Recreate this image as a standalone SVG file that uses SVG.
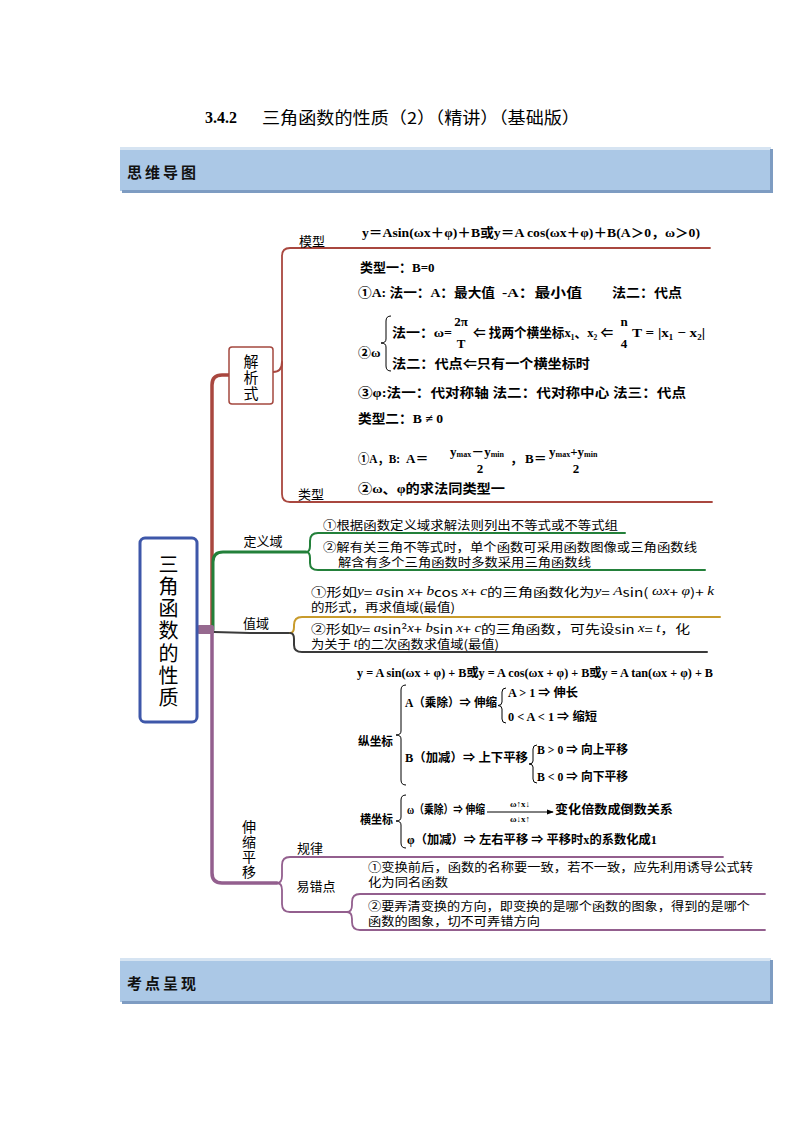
<svg xmlns="http://www.w3.org/2000/svg" width="794" height="1123" viewBox="0 0 794 1123">
<defs>
<marker id="ah" viewBox="0 0 8 8" refX="7" refY="4" markerWidth="7" markerHeight="7" orient="auto" markerUnits="userSpaceOnUse"><path d="M0,1 L8,4 L0,7 Z" fill="#000"/></marker>
</defs>
<style>
text{dominant-baseline:central}
.cn{font-family:"Noto Sans CJK SC","Noto Sans",sans-serif;fill:#000}
.vt{writing-mode:vertical-rl}
.lbl{font-size:13px}
.it{font-size:12px}
.m{font-family:"Liberation Serif","Noto Sans CJK SC",serif;font-weight:bold;font-size:13px;fill:#000}
.r{font-size:12px}
.v{font-family:"Liberation Serif",serif;font-style:italic}
.sub{font-size:8px}
.bar{fill:#ABC8E6}
.barhi{fill:#D6E4F2}
.barsh{fill:#7E9CC2}
.bt{font-family:"Noto Sans CJK SC",sans-serif;font-weight:bold;font-size:15px;letter-spacing:3px;fill:#111}
.br{fill:none;stroke:#000;stroke-width:1}
.c{fill:none;stroke-linecap:round;stroke-linejoin:round}
</style>
<rect width="794" height="1123" fill="#fff"/>

<g id="title">
<text x="205" y="117" style="font-family:'Liberation Serif',serif;font-weight:bold;font-size:16px">3.4.2</text>
<text x="262" y="117" class="cn" style="font-size:16.5px" textLength="318" lengthAdjust="spacingAndGlyphs">三角函数的性质（2）（精讲）（基础版）</text>
</g>

<g id="header-mindmap">
<rect class="bar" x="120" y="147" width="651" height="44"/>
<rect class="barhi" x="120" y="147" width="651" height="3"/>
<rect class="barsh" x="122" y="190" width="651" height="3"/>
<rect class="barsh" x="770" y="149" width="3" height="44"/>
<text class="bt" x="127" y="171">思维导图</text>
</g>

<g id="header-kaodian">
<rect class="bar" x="120" y="958" width="651" height="44"/>
<rect class="barhi" x="120" y="958" width="651" height="3"/>
<rect class="barsh" x="122" y="1001" width="651" height="3"/>
<rect class="barsh" x="770" y="960" width="3" height="44"/>
<text class="bt" x="127" y="982">考点呈现</text>
</g>

<g id="connectors">
<path class="c" d="M212,632 V385 Q212,375 222,375 H229" stroke="#A9473F" stroke-width="3.5"/>
<path class="c" d="M273,372 Q282,372 282,362" stroke="#A9473F" stroke-width="2"/>
<path class="c" d="M710,248 H290 Q282,248 282,256 V494 Q282,502 290,502 H712" stroke="#A9473F" stroke-width="1.8"/>
<path class="c" d="M213,630 V562 Q213,552 223,552 H306" stroke="#23803A" stroke-width="3"/>
<path class="c" d="M306,552 Q310,552 310,546 V541 Q310,533 318,533 H625" stroke="#23803A" stroke-width="2"/>
<path class="c" d="M306,552 Q310,552 310,558 V563 Q310,570 318,570 H705" stroke="#23803A" stroke-width="2"/>
<path class="c" d="M214,632 L250,633 H290" stroke="#3A3A3A" stroke-width="2.2"/>
<path class="c" d="M290,633 Q294,633 294,627 V625 Q294,617 302,617 H720" stroke="#C89B2C" stroke-width="2"/>
<path class="c" d="M290,633 Q294,633 294,639 V645 Q294,652 302,652 H707" stroke="#3A3A3A" stroke-width="2"/>
<path class="c" d="M212,632 V873 Q212,883 222,883 H277" stroke="#935F8E" stroke-width="3.5"/>
<path class="c" d="M277,883 Q282,883 282,876 V865 Q282,857 290,857 H723" stroke="#935F8E" stroke-width="1.8"/>
<path class="c" d="M277,883 Q282,883 282,890 V904 Q282,912 290,912 H347" stroke="#935F8E" stroke-width="1.8"/>
<path class="c" d="M347,912 Q352,912 352,905 V902 Q352,894 360,894 H765" stroke="#935F8E" stroke-width="1.8"/>
<path class="c" d="M347,912 Q352,912 352,919 V922 Q352,930 360,930 H765" stroke="#935F8E" stroke-width="1.8"/>
<rect x="197" y="625" width="17" height="9" rx="2" fill="#96698F"/>
</g>

<g id="root">
<rect x="140" y="538" width="57" height="184" rx="5" fill="#fff" stroke="#3E57A9" stroke-width="3"/>
<text class="cn vt" style="font-size:20px;letter-spacing:2.3px" x="168.5" y="554">三角函数的性质</text>
</g>

<g id="node-jiexishi">
<rect x="229" y="347" width="44" height="57" rx="3" fill="#fff" stroke="#A4483F" stroke-width="1.5"/>
<text class="cn vt" style="font-size:15px;letter-spacing:1px" x="251" y="353.5">解析式</text>
</g>

<g id="node-moxing">
<text class="cn lbl" x="312" y="240" text-anchor="middle">模型</text>
<text class="m" x="362" y="232" textLength="338" lengthAdjust="spacingAndGlyphs">y＝Asin(ωx＋φ)＋B或y＝A cos(ωx＋φ)＋B(A＞0，ω＞0)</text>
</g>

<g id="node-leixing">
<text class="cn lbl" x="311" y="493" text-anchor="middle">类型</text>
<text class="m" x="360" y="267">类型一：B=0</text>
<text class="m" x="358" y="292" textLength="137" lengthAdjust="spacingAndGlyphs">①A: 法一：A：最大值</text>
<text class="m" x="502" y="292" textLength="80" lengthAdjust="spacingAndGlyphs">-A：最小值</text>
<text class="m" x="612" y="292" textLength="70" lengthAdjust="spacingAndGlyphs">法二：代点</text>
<text class="m" x="358" y="352">②ω</text>
<path class="br" d="M391,316 Q386,316 386,321 V339 Q386,343 381,343 Q386,343 386,347 V366 Q386,371 391,371"/>
<text class="m" x="392" y="332" textLength="60" lengthAdjust="spacingAndGlyphs">法一：ω=</text>
<text class="m" x="461" y="321" text-anchor="middle">2π</text>
<text class="m" x="461" y="343" text-anchor="middle">T</text>
<text class="m" x="473" y="332" textLength="140" lengthAdjust="spacingAndGlyphs">⇐ 找两个横坐标x₁、x₂ ⇐</text>
<text class="m" x="624" y="321" text-anchor="middle">n</text>
<text class="m" x="624" y="343" text-anchor="middle">4</text>
<text class="m" x="632" y="332" textLength="73" lengthAdjust="spacingAndGlyphs">T = |x₁ − x₂|</text>
<text class="m" x="392" y="363" textLength="198" lengthAdjust="spacingAndGlyphs">法二：代点⇐只有一个横坐标时</text>
<text class="m" x="358" y="392" textLength="328" lengthAdjust="spacingAndGlyphs">③φ:法一：代对称轴 法二：代对称中心 法三：代点</text>
<text class="m" x="358" y="418" textLength="85" lengthAdjust="spacingAndGlyphs">类型二：B ≠ 0</text>
<text class="m" x="358" y="458" textLength="42" lengthAdjust="spacingAndGlyphs">①A，B:</text>
<text class="m" x="406" y="458">A＝</text>
<text class="m" x="450" y="451">y<tspan class="sub" dy="3">max</tspan><tspan dy="-3">－y</tspan><tspan class="sub" dy="3">min</tspan></text>
<text class="m" x="480" y="468" text-anchor="middle">2</text>
<text class="m" x="510" y="458">，</text>
<text class="m" x="525" y="458">B＝</text>
<text class="m" x="549" y="451">y<tspan class="sub" dy="3">max</tspan><tspan dy="-3">+y</tspan><tspan class="sub" dy="3">min</tspan></text>
<text class="m" x="576" y="468" text-anchor="middle">2</text>
<text class="m" x="358" y="488" textLength="147" lengthAdjust="spacingAndGlyphs">②ω、φ的求法同类型一</text>
</g>

<g id="node-dingyiyu">
<text class="cn lbl" x="263" y="540" text-anchor="middle">定义域</text>
<text class="cn it" x="323" y="524" textLength="295" lengthAdjust="spacingAndGlyphs">①根据函数定义域求解法则列出不等式或不等式组</text>
<text class="cn it" x="323" y="546" textLength="374" lengthAdjust="spacingAndGlyphs">②解有关三角不等式时，单个函数可采用函数图像或三角函数线</text>
<text class="cn it" x="338" y="561" textLength="253" lengthAdjust="spacingAndGlyphs">解含有多个三角函数时多数采用三角函数线</text>
</g>

<g id="node-zhiyu">
<text class="cn lbl" x="256" y="622" text-anchor="middle">值域</text>
<text class="cn it" x="311" y="591" textLength="403" lengthAdjust="spacingAndGlyphs">①形如<tspan class="v">y</tspan>= <tspan class="v">a</tspan>sin  <tspan class="v">x</tspan>+ <tspan class="v">b</tspan>cos  <tspan class="v">x</tspan>+ <tspan class="v">c</tspan>的三角函数化为<tspan class="v">y</tspan>= <tspan class="v">A</tspan>sin( <tspan class="v">ωx</tspan>+ <tspan class="v">φ</tspan>)+ <tspan class="v">k</tspan></text>
<text class="cn it" x="311" y="606" textLength="144" lengthAdjust="spacingAndGlyphs">的形式，再求值域(最值)</text>
<text class="cn it" x="311" y="628" textLength="379" lengthAdjust="spacingAndGlyphs">②形如<tspan class="v">y</tspan>= <tspan class="v">a</tspan>sin²<tspan class="v">x</tspan>+ <tspan class="v">b</tspan>sin  <tspan class="v">x</tspan>+ <tspan class="v">c</tspan>的三角函数，可先设sin  <tspan class="v">x</tspan>= <tspan class="v">t</tspan>，化</text>
<text class="cn it" x="311" y="643" textLength="188" lengthAdjust="spacingAndGlyphs">为关于 <tspan class="v">t</tspan>的二次函数求值域(最值)</text>
</g>

<g id="node-shensuo">
<text class="cn vt" style="font-size:14px;letter-spacing:1px" x="249" y="820">伸缩平移</text>
</g>

<g id="node-guilv">
<text class="cn lbl" x="310" y="847" text-anchor="middle">规律</text>
<text class="m r" x="357" y="673" textLength="356" lengthAdjust="spacingAndGlyphs">y = A sin(ωx + φ) + B或y = A cos(ωx + φ) + B或y = A tan(ωx + φ) + B</text>
<text class="m r" x="358" y="742" textLength="35" lengthAdjust="spacingAndGlyphs">纵坐标</text>
<path class="br" d="M406,685 Q401,685 401,690 V731 Q401,735 396,735 Q401,735 401,739 V780 Q401,785 406,785"/>
<text class="m r" x="405" y="703" textLength="92" lengthAdjust="spacingAndGlyphs">A（乘除）⇒ 伸缩</text>
<path class="br" d="M506,688 Q502,688 502,692 V702 Q502,705.5 498,705.5 Q502,705.5 502,709 V719 Q502,723 506,723"/>
<text class="m r" x="508" y="693" textLength="70" lengthAdjust="spacingAndGlyphs">A &gt; 1 ⇒ 伸长</text>
<text class="m r" x="508" y="717" textLength="89" lengthAdjust="spacingAndGlyphs">0 &lt; A &lt; 1 ⇒ 缩短</text>
<text class="m r" x="405" y="758" textLength="123" lengthAdjust="spacingAndGlyphs">B（加减）⇒ 上下平移</text>
<path class="br" d="M537,745 Q533,745 533,749 V761 Q533,764 529,764 Q533,764 533,767 V779 Q533,783 537,783"/>
<text class="m r" x="537" y="750" textLength="91" lengthAdjust="spacingAndGlyphs">B &gt; 0 ⇒ 向上平移</text>
<text class="m r" x="537" y="777" textLength="91" lengthAdjust="spacingAndGlyphs">B &lt; 0 ⇒ 向下平移</text>
<text class="m r" x="360" y="820" textLength="33" lengthAdjust="spacingAndGlyphs">横坐标</text>
<path class="br" d="M406,795 Q401,795 401,800 V817 Q401,821 396,821 Q401,821 401,825 V843 Q401,848 406,848"/>
<text class="m r" x="407" y="810" textLength="78" lengthAdjust="spacingAndGlyphs">ω（乘除）⇒ 伸缩</text>
<line x1="487" y1="812" x2="553" y2="812" stroke="#000" stroke-width="1" marker-end="url(#ah)"/>
<text class="m" x="520" y="804" text-anchor="middle" style="font-size:9px">ω↑x↓</text>
<text class="m" x="520" y="819" text-anchor="middle" style="font-size:9px">ω↓x↑</text>
<text class="m r" x="555" y="810" textLength="118" lengthAdjust="spacingAndGlyphs">变化倍数成倒数关系</text>
<text class="m r" x="407" y="840" textLength="250" lengthAdjust="spacingAndGlyphs">φ（加减）⇒ 左右平移 ⇒ 平移时x的系数化成1</text>
</g>

<g id="node-yicuodian">
<text class="cn lbl" x="316" y="885" text-anchor="middle">易错点</text>
<text class="cn it" x="368" y="866" textLength="385" lengthAdjust="spacingAndGlyphs">①变换前后，函数的名称要一致，若不一致，应先利用诱导公式转</text>
<text class="cn it" x="368" y="881" textLength="80" lengthAdjust="spacingAndGlyphs">化为同名函数</text>
<text class="cn it" x="368" y="905" textLength="382" lengthAdjust="spacingAndGlyphs">②要弄清变换的方向，即变换的是哪个函数的图象，得到的是哪个</text>
<text class="cn it" x="368" y="920" textLength="172" lengthAdjust="spacingAndGlyphs">函数的图象，切不可弄错方向</text>
</g>
</svg>
